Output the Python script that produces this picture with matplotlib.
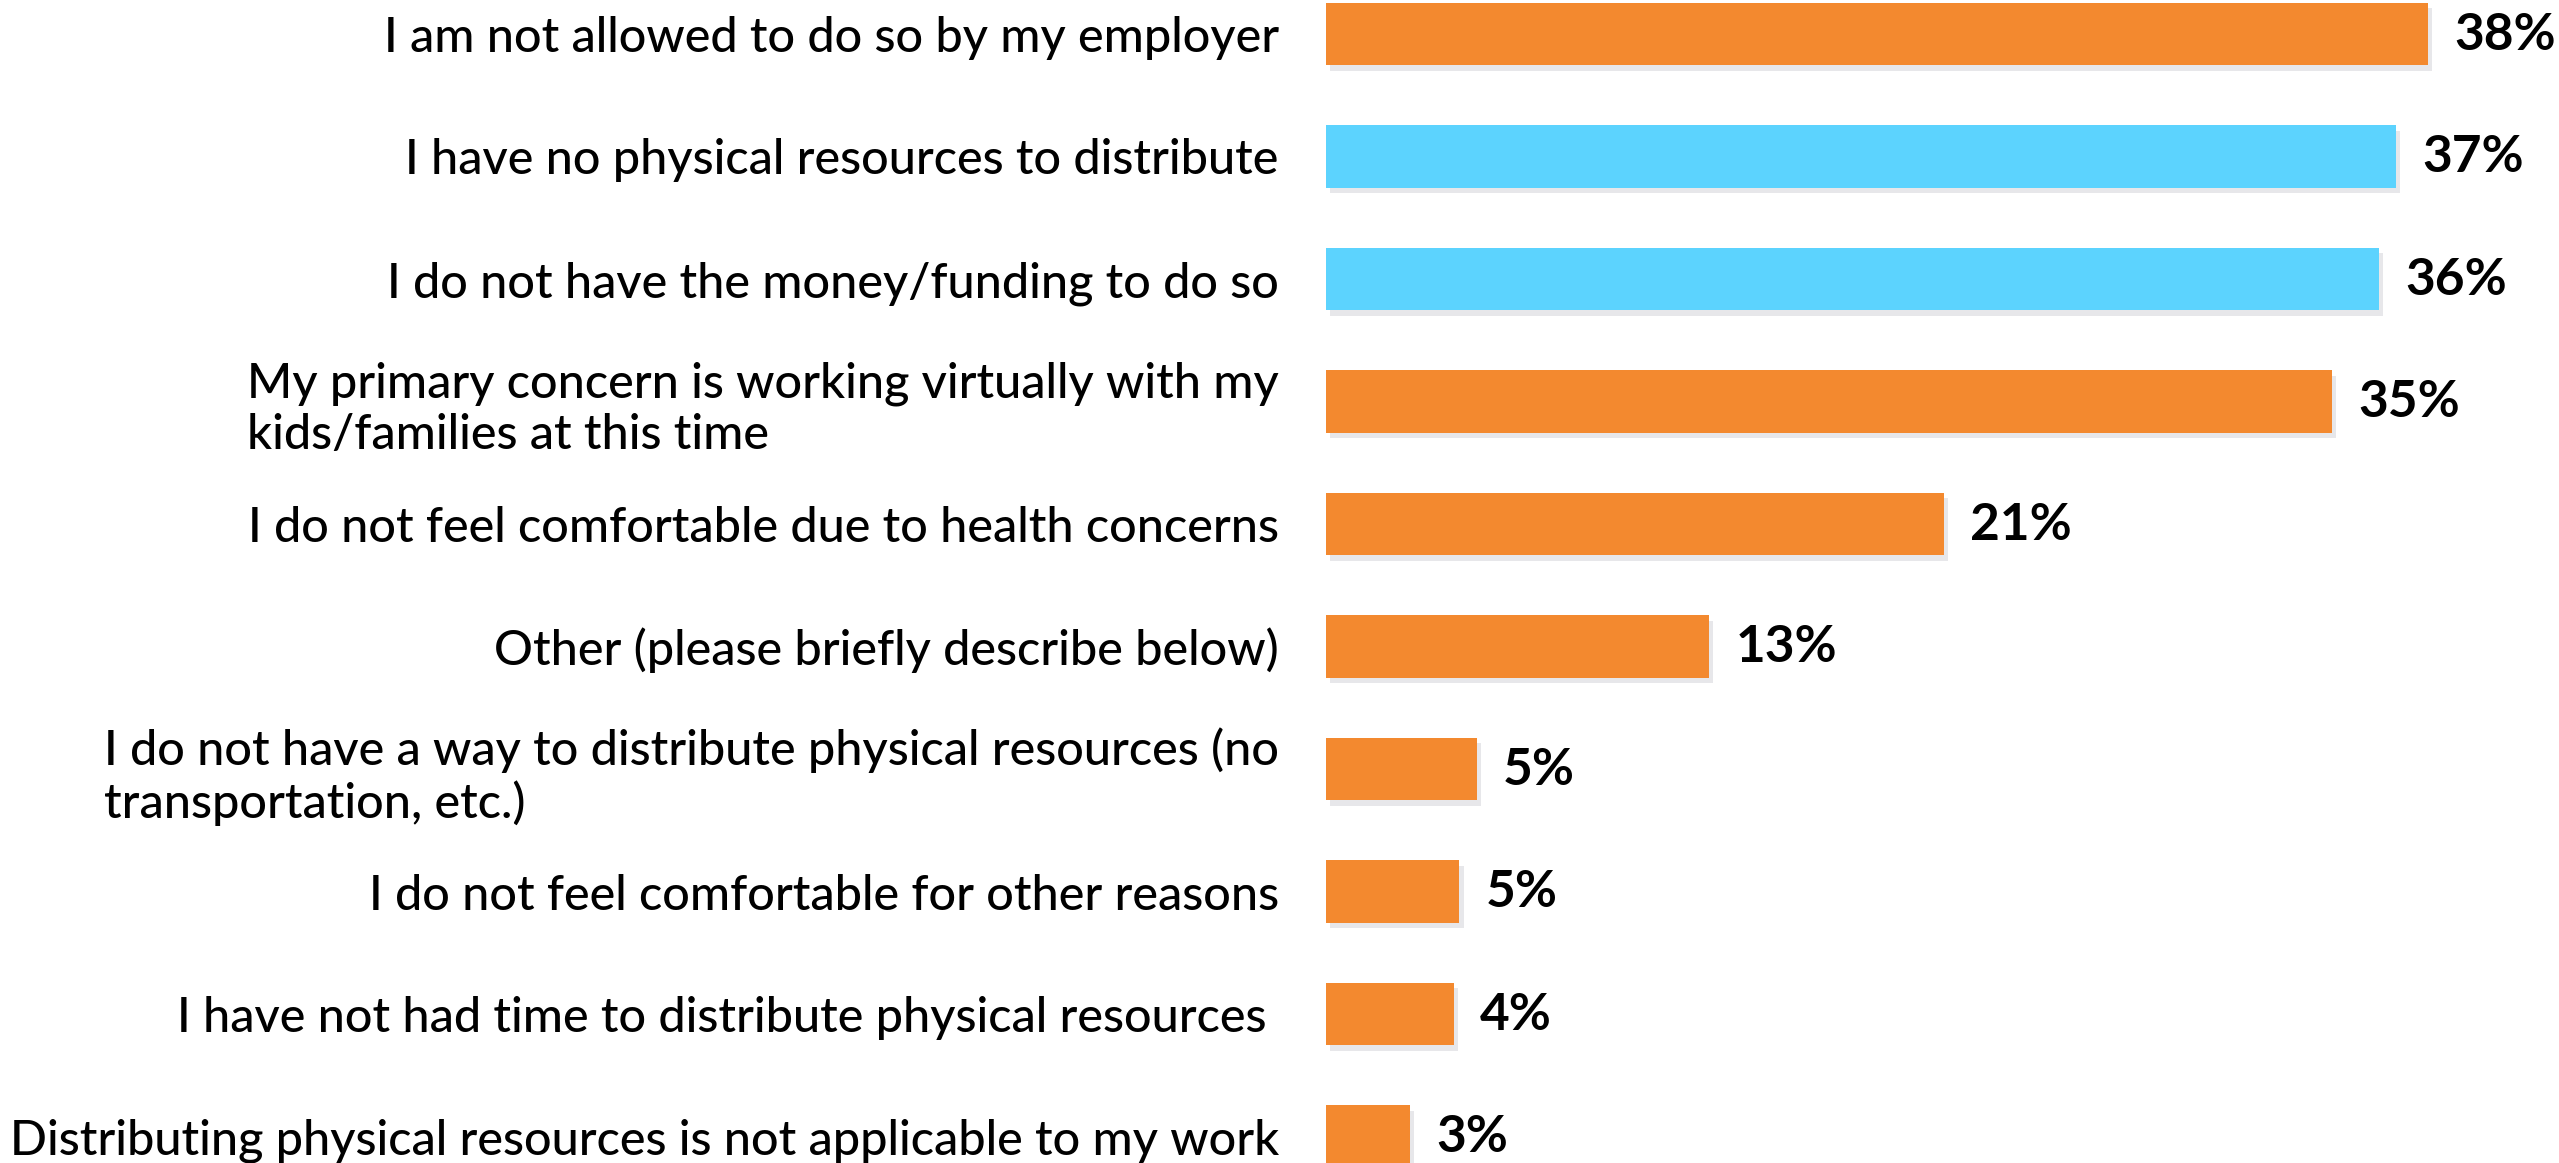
import matplotlib.pyplot as plt
import matplotlib.patheffects as pe

# survey answers, top to bottom
categories = [
    "I am not allowed to do so by my employer",
    "I have no physical resources to distribute",
    "I do not have the money/funding to do so",
    "My primary concern is working virtually with my\nkids/families at this time",
    "I do not feel comfortable due to health concerns",
    "Other (please briefly describe below)",
    "I do not have a way to distribute physical resources (no\ntransportation, etc.)",
    "I do not feel comfortable for other reasons",
    "I have not had time to distribute physical resources ",
    "Distributing physical resources is not applicable to my work",
]
values = [38.0, 36.9, 36.3, 34.7, 21.3, 13.2, 5.2, 4.6, 4.4, 2.9]
highlight = [False, True, True, False, False, False, False, False, False, False]

ORANGE = "#F3892F"
BLUE = "#5CD3FE"

plt.rcParams['font.family'] = ['Lato', 'DejaVu Sans']

fig = plt.figure(figsize=(25.59, 11.63), dpi=100)
ax = fig.add_axes([1326 / 2559, 0, 1 - 1326 / 2559, 1])

ypos = list(range(len(categories)))
colors = [BLUE if h else ORANGE for h in highlight]
bars = ax.barh(ypos, values, height=0.51, color=colors, zorder=2)
for b in bars:
    b.set_path_effects([pe.SimplePatchShadow(offset=(3, -4), shadow_rgbFace='#3a3f5a', alpha=0.12),
                        pe.Normal()])

# value labels just right of each bar
for y, v in zip(ypos, values):
    ax.annotate(f"{v:.0f}%", (v, y), xytext=(19, -1), textcoords='offset points',
                va='center', ha='left', fontsize=37, color='black', fontweight='bold')

ax.set_yticks(ypos)
ax.set_yticklabels(categories, fontsize=35, multialignment='left', fontweight='medium')
ax.tick_params(axis='y', length=0, pad=34)
ax.set_xticks([])
ax.set_xlim(0, 1233 / 29.0)
ax.set_ylim(9 + 26.5 / 122.5, -34 / 122.5)
for s in ax.spines.values():
    s.set_visible(False)

fig.savefig('out.png', dpi=100)
